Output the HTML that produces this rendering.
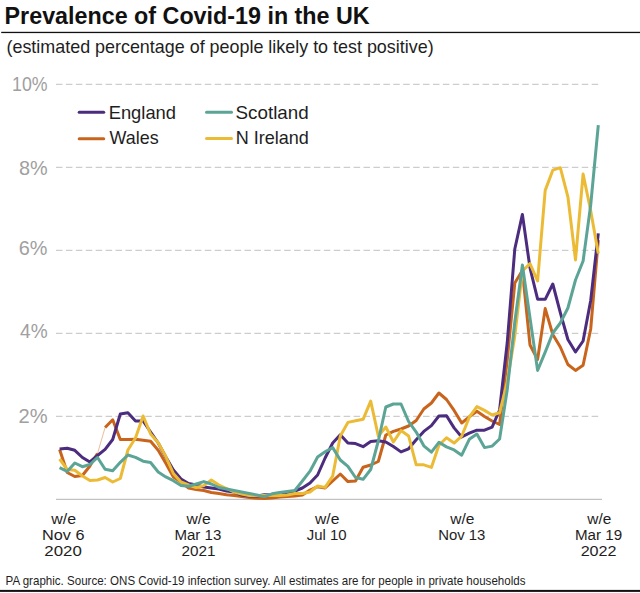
<!DOCTYPE html>
<html><head><meta charset="utf-8"><style>
html,body{margin:0;padding:0;background:#fff;}
body{width:640px;height:593px;overflow:hidden;position:relative;}
svg{position:absolute;left:0;top:0;}
text{font-family:"Liberation Sans",Arial,Helvetica,sans-serif;}
</style></head><body>
<svg width="640" height="593" viewBox="0 0 640 593">
<rect x="1.2" y="31.8" width="638.8" height="1.3" fill="#111"/>
<line x1="56" y1="416.4" x2="598.5" y2="416.4" stroke="#cdcdcd" stroke-width="1.1" stroke-dasharray="6.5 3.42"/>
<line x1="56" y1="333.4" x2="598.5" y2="333.4" stroke="#cdcdcd" stroke-width="1.1" stroke-dasharray="6.5 3.42"/>
<line x1="56" y1="250.4" x2="598.5" y2="250.4" stroke="#cdcdcd" stroke-width="1.1" stroke-dasharray="6.5 3.42"/>
<line x1="56" y1="167.4" x2="598.5" y2="167.4" stroke="#cdcdcd" stroke-width="1.1" stroke-dasharray="6.5 3.42"/>
<line x1="56" y1="84.4" x2="598.5" y2="84.4" stroke="#cdcdcd" stroke-width="1.1" stroke-dasharray="6.5 3.42"/>

<line x1="56" y1="499.4" x2="602" y2="499.4" stroke="#c2c2c2" stroke-width="1.2"/>
<g fill="none" stroke-width="3.0" stroke-linejoin="round" stroke-linecap="butt">
<polyline points="59.6,449.5 67.2,472.5 74.8,476.5 82.4,475.5 89.9,466.0 97.5,453.5" stroke="#c9641c"/>
<polyline points="97.5,453.5 105.1,427.5" stroke="#e0a070" stroke-width="0.7"/>
<polyline points="105.1,427.5 112.7,419.8 120.3,439.5 127.9,439.5 135.5,439.2 143.1,440.3 150.6,441.3 158.2,450.3 165.8,463.2 173.4,477.0 181.0,482.0 188.6,488.0 196.2,489.5 203.8,490.5 211.3,492.5 218.9,493.5 226.5,494.7 234.1,495.5 241.7,496.6 249.3,497.5 256.9,498.3 264.4,498.5 272.0,498.0 279.6,497.0 287.2,496.5 294.8,496.0 302.4,495.0 310.0,490.1 317.6,486.7 325.1,488.0 332.7,481.0 340.3,474.0 347.9,481.6 355.5,480.9 363.1,467.2 370.7,465.0 378.3,461.5 385.8,435.0 393.4,431.4 401.0,429.0 408.6,426.0 416.2,420.5 423.8,409.0 431.4,403.0 438.9,393.0 446.5,399.5 454.1,410.4 461.7,423.0 469.3,416.8 476.9,411.3 484.5,416.5 492.1,421.0 499.6,424.5 507.2,360.0 514.8,283.0 522.4,270.5 530.0,345.0 537.6,359.5 545.2,308.6 552.8,334.5 560.3,347.0 567.9,364.5 575.5,370.4 583.1,365.3 590.7,329.0 598.3,240.0" stroke="#c9641c"/>
<polyline points="59.6,449.0 67.2,448.2 74.8,450.3 82.4,457.5 89.9,462.0 97.5,455.5 105.1,449.4 112.7,439.5 120.3,414.0 127.9,412.7 135.5,421.0 143.1,421.0 150.6,432.0 158.2,443.0 165.8,457.0 173.4,470.0 181.0,479.0 188.6,483.5 196.2,485.0 203.8,487.0 211.3,488.0 218.9,489.0 226.5,491.0 234.1,492.0 241.7,495.0 249.3,496.0 256.9,496.0 264.4,494.7 272.0,495.0 279.6,495.6 287.2,493.0 294.8,491.0 302.4,488.0 310.0,483.0 317.6,475.0 325.1,458.0 332.7,443.0 340.3,434.8 347.9,443.0 355.5,443.6 363.1,446.7 370.7,441.4 378.3,440.8 385.8,442.0 393.4,446.5 401.0,451.9 408.6,448.8 416.2,439.7 423.8,431.4 431.4,425.6 438.9,416.0 446.5,415.7 454.1,427.9 461.7,437.0 469.3,433.2 476.9,430.2 484.5,430.2 492.1,427.1 499.6,410.0 507.2,343.0 514.8,249.0 522.4,214.4 530.0,268.0 537.6,299.2 545.2,299.3 552.8,284.0 560.3,312.7 567.9,339.5 575.5,352.0 583.1,341.0 590.7,300.5 598.3,233.4" stroke="#4b2c7e"/>
<polyline points="59.6,459.0 67.2,469.5 74.8,470.3 82.4,476.0 89.9,480.5 97.5,480.0 105.1,477.5 112.7,482.0 120.3,478.5 127.9,450.0 135.5,438.0 143.1,416.0 150.6,434.0 158.2,442.7 165.8,456.5 173.4,473.5 181.0,482.0 188.6,485.0 196.2,487.5 203.8,485.6 211.3,480.0 218.9,485.0 226.5,488.5 234.1,492.0 241.7,494.0 249.3,495.6 256.9,495.6 264.4,495.6 272.0,495.6 279.6,495.6 287.2,495.0 294.8,493.5 302.4,493.5 310.0,492.0 317.6,486.0 325.1,487.4 332.7,476.0 340.3,436.0 347.9,422.4 355.5,420.8 363.1,419.3 370.7,401.1 378.3,436.0 385.8,427.0 393.4,442.0 401.0,430.6 408.6,435.9 416.2,464.8 423.8,464.8 431.4,467.4 438.9,445.3 446.5,437.8 454.1,443.1 461.7,436.2 469.3,417.2 476.9,406.6 484.5,410.4 492.1,415.0 499.6,412.7 507.2,382.0 514.8,336.0 522.4,271.0 530.0,263.7 537.6,281.0 545.2,190.4 552.8,170.2 560.3,167.7 567.9,196.8 575.5,259.9 583.1,174.0 590.7,210.7 598.3,253.6" stroke="#ecbb36"/>
<polyline points="59.6,467.7 67.2,471.5 74.8,463.0 82.4,466.7 89.9,464.5 97.5,457.5 105.1,469.2 112.7,470.7 120.3,462.3 127.9,455.0 135.5,457.4 143.1,461.2 150.6,462.5 158.2,472.0 165.8,476.9 173.4,480.7 181.0,485.5 188.6,486.3 196.2,484.0 203.8,481.6 211.3,484.0 218.9,487.5 226.5,489.0 234.1,490.5 241.7,492.0 249.3,493.5 256.9,495.0 264.4,496.6 272.0,493.8 279.6,492.5 287.2,491.5 294.8,490.5 302.4,481.0 310.0,471.2 317.6,457.0 325.1,451.7 332.7,447.6 340.3,460.0 347.9,466.4 355.5,477.5 363.1,479.3 370.7,469.5 378.3,441.0 385.8,407.0 393.4,404.0 401.0,404.0 408.6,421.5 416.2,432.1 423.8,445.8 431.4,452.2 438.9,442.3 446.5,446.9 454.1,449.9 461.7,455.2 469.3,439.3 476.9,434.0 484.5,447.6 492.1,446.1 499.6,439.0 507.2,390.0 514.8,322.0 522.4,265.0 530.0,318.0 537.6,370.4 545.2,352.2 552.8,333.0 560.3,323.0 567.9,308.0 575.5,280.0 583.1,261.0 590.7,205.0 598.3,125.2" stroke="#5ca596"/>
</g>
<g stroke-width="3" stroke-linecap="round">
<line x1="79.2" y1="112.2" x2="103.7" y2="112.2" stroke="#4b2c7e"/>
<line x1="79.2" y1="138.7" x2="103.7" y2="138.7" stroke="#c9641c"/>
<line x1="206.5" y1="112.3" x2="231.5" y2="112.3" stroke="#5ca596"/>
<line x1="206.5" y1="138.5" x2="231.5" y2="138.5" stroke="#ecbb36"/>
</g>
<text id="title" x="4.59" y="23.5" text-anchor="start" textLength="365.10" lengthAdjust="spacingAndGlyphs" style="font-size:23.5px;font-weight:bold;fill:#111">Prevalence of Covid-19 in the UK</text>
<text id="sub" x="6.48" y="52.5" text-anchor="start" textLength="427.13" lengthAdjust="spacingAndGlyphs" style="font-size:17.8px;fill:#1e1e1e">(estimated percentage of people likely to test positive)</text>
<text id="y10" x="47.55" y="91.3" text-anchor="end" textLength="35.51" lengthAdjust="spacingAndGlyphs" style="font-size:19.3px;fill:#a0a0a0">10%</text>
<text id="y8" x="47.60" y="174.9" text-anchor="end" textLength="28.69" lengthAdjust="spacingAndGlyphs" style="font-size:19.3px;fill:#a0a0a0">8%</text>
<text id="y6" x="47.42" y="254.8" text-anchor="end" textLength="28.75" lengthAdjust="spacingAndGlyphs" style="font-size:19.3px;fill:#a0a0a0">6%</text>
<text id="y4" x="47.64" y="338.1" text-anchor="end" textLength="27.57" lengthAdjust="spacingAndGlyphs" style="font-size:19.3px;fill:#a0a0a0">4%</text>
<text id="y2" x="47.71" y="422.9" text-anchor="end" textLength="29.09" lengthAdjust="spacingAndGlyphs" style="font-size:19.3px;fill:#a0a0a0">2%</text>
<text id="lgE" x="108.68" y="118.7" text-anchor="start" textLength="67.33" lengthAdjust="spacingAndGlyphs" style="font-size:18.2px;fill:#1e1e1e">England</text>
<text id="lgW" x="109.57" y="144.3" text-anchor="start" textLength="49.02" lengthAdjust="spacingAndGlyphs" style="font-size:18.2px;fill:#1e1e1e">Wales</text>
<text id="lgS" x="235.54" y="118.7" text-anchor="start" textLength="73.20" lengthAdjust="spacingAndGlyphs" style="font-size:18.2px;fill:#1e1e1e">Scotland</text>
<text id="lgN" x="235.69" y="144.3" text-anchor="start" textLength="73.15" lengthAdjust="spacingAndGlyphs" style="font-size:18.2px;fill:#1e1e1e">N Ireland</text>
<text id="x1a" x="63.69" y="523.6" text-anchor="middle" textLength="24.78" lengthAdjust="spacingAndGlyphs" style="font-size:15.5px;fill:#1e1e1e">w/e</text>
<text id="x1b" x="63.23" y="539.6" text-anchor="middle" textLength="42.43" lengthAdjust="spacingAndGlyphs" style="font-size:15.5px;fill:#1e1e1e">Nov 6</text>
<text id="x1c" x="63.13" y="556.2" text-anchor="middle" textLength="37.49" lengthAdjust="spacingAndGlyphs" style="font-size:15.5px;fill:#1e1e1e">2020</text>
<text id="x2a" x="198.60" y="523.6" text-anchor="middle" textLength="24.37" lengthAdjust="spacingAndGlyphs" style="font-size:15.5px;fill:#1e1e1e">w/e</text>
<text id="x2b" x="197.89" y="539.6" text-anchor="middle" textLength="46.87" lengthAdjust="spacingAndGlyphs" style="font-size:15.5px;fill:#1e1e1e">Mar 13</text>
<text id="x2c" x="198.57" y="556.2" text-anchor="middle" textLength="33.95" lengthAdjust="spacingAndGlyphs" style="font-size:15.5px;fill:#1e1e1e">2021</text>
<text id="x3a" x="327.17" y="523.6" text-anchor="middle" textLength="24.32" lengthAdjust="spacingAndGlyphs" style="font-size:15.5px;fill:#1e1e1e">w/e</text>
<text id="x3b" x="326.68" y="539.6" text-anchor="middle" textLength="39.83" lengthAdjust="spacingAndGlyphs" style="font-size:15.5px;fill:#1e1e1e">Jul 10</text>
<text id="x4a" x="462.33" y="523.6" text-anchor="middle" textLength="24.14" lengthAdjust="spacingAndGlyphs" style="font-size:15.5px;fill:#1e1e1e">w/e</text>
<text id="x4b" x="461.78" y="539.6" text-anchor="middle" textLength="47.22" lengthAdjust="spacingAndGlyphs" style="font-size:15.5px;fill:#1e1e1e">Nov 13</text>
<text id="x5a" x="599.29" y="523.6" text-anchor="middle" textLength="24.04" lengthAdjust="spacingAndGlyphs" style="font-size:15.5px;fill:#1e1e1e">w/e</text>
<text id="x5b" x="598.58" y="539.6" text-anchor="middle" textLength="47.20" lengthAdjust="spacingAndGlyphs" style="font-size:15.5px;fill:#1e1e1e">Mar 19</text>
<text id="x5c" x="598.59" y="556.2" text-anchor="middle" textLength="35.93" lengthAdjust="spacingAndGlyphs" style="font-size:15.5px;fill:#1e1e1e">2022</text>
<text id="foot" x="5.56" y="585.3" text-anchor="start" textLength="519.92" lengthAdjust="spacingAndGlyphs" style="font-size:12.2px;fill:#1e1e1e">PA graphic. Source: ONS Covid-19 infection survey. All estimates are for people in private households</text>
<rect x="0" y="589.9" width="640" height="2" fill="#111"/>
</svg>
</body></html>
